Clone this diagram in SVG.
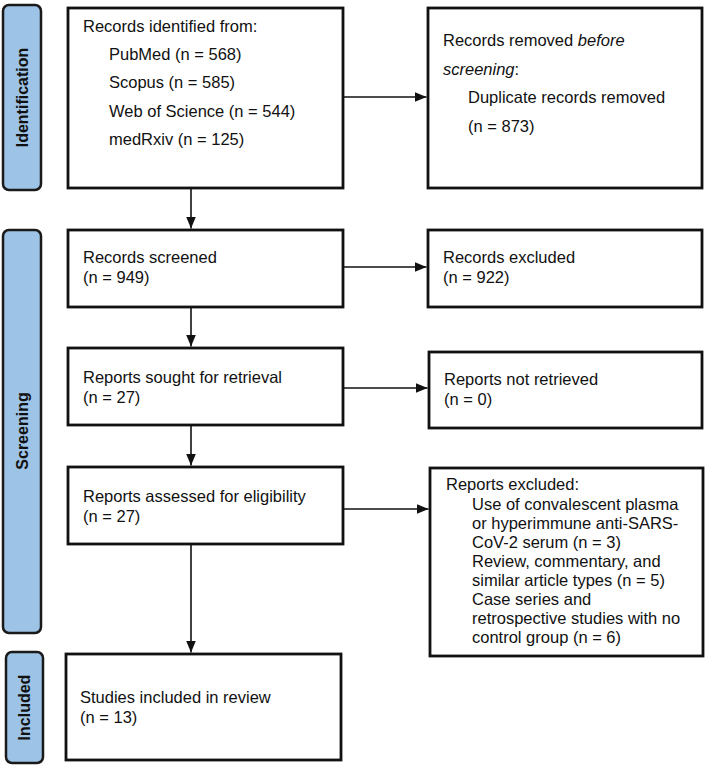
<svg xmlns="http://www.w3.org/2000/svg" width="709" height="769" viewBox="0 0 709 769">
<style>
.side{fill:#9dc3e6;stroke:#1a1a1a;stroke-width:2.5}
.box{fill:#fff;stroke:#111;stroke-width:2.8}
.t{font-family:"Liberation Sans",Arial,sans-serif;font-size:16.5px;fill:#111}
.lab{font-family:"Liberation Sans",Arial,sans-serif;font-size:16px;font-weight:bold;fill:#111}
.c{stroke:#111;stroke-width:1.6;fill:none;marker-end:url(#ah)}
</style>
<defs>
<marker id="ah" viewBox="0 0 12 10" refX="12" refY="5" markerWidth="12" markerHeight="10" markerUnits="userSpaceOnUse" orient="auto">
<path d="M0,0 L12,5 L0,10 z" fill="#111"/>
</marker>
</defs>
<rect width="709" height="769" fill="#fff"/>
<g id="side-identification">
<rect class="side" x="3" y="5" width="38" height="185" rx="6"/>
<text class="lab" transform="translate(28,97.5) rotate(-90)" text-anchor="middle">Identification</text>
</g>
<g id="side-screening">
<rect class="side" x="3" y="230" width="38" height="403" rx="6"/>
<text class="lab" transform="translate(28,431) rotate(-90)" text-anchor="middle">Screening</text>
</g>
<g id="side-included">
<rect class="side" x="6" y="652" width="37" height="111" rx="6"/>
<text class="lab" transform="translate(30,707.5) rotate(-90)" text-anchor="middle">Included</text>
</g>
<g id="identified">
<rect class="box" x="68" y="8" width="275" height="180"/>
<text class="t" x="83" y="32">Records identified from:</text>
<text class="t" x="109" y="60">PubMed (n = 568)</text>
<text class="t" x="109" y="88">Scopus (n = 585)</text>
<text class="t" x="109" y="117">Web of Science (n = 544)</text>
<text class="t" x="109" y="145">medRxiv (n = 125)</text>
</g>
<g id="removed">
<rect class="box" x="428" y="8" width="274" height="180"/>
<text class="t" x="443" y="46">Records removed <tspan font-style="italic">before</tspan></text>
<text class="t" x="443" y="75"><tspan font-style="italic">screening</tspan>:</text>
<text class="t" x="468" y="103">Duplicate records removed</text>
<text class="t" x="468" y="132">(n = 873)</text>
</g>
<g id="screened">
<rect class="box" x="68" y="230" width="275" height="77"/>
<text class="t" x="83" y="263">Records screened</text>
<text class="t" x="83" y="283">(n = 949)</text>
</g>
<g id="excluded">
<rect class="box" x="428" y="230" width="274" height="77"/>
<text class="t" x="443" y="263">Records excluded</text>
<text class="t" x="443" y="283">(n = 922)</text>
</g>
<g id="sought">
<rect class="box" x="68" y="348" width="275" height="77"/>
<text class="t" x="83" y="383">Reports sought for retrieval</text>
<text class="t" x="83" y="403">(n = 27)</text>
</g>
<g id="notretrieved">
<rect class="box" x="429" y="352" width="273" height="76"/>
<text class="t" x="444" y="385">Reports not retrieved</text>
<text class="t" x="444" y="405">(n = 0)</text>
</g>
<g id="assessed">
<rect class="box" x="68" y="467" width="275" height="77"/>
<text class="t" x="83" y="502">Reports assessed for eligibility</text>
<text class="t" x="83" y="522">(n = 27)</text>
</g>
<g id="reportsexcluded">
<rect class="box" x="430" y="468" width="273" height="188"/>
<text class="t" x="446" y="490">Reports excluded:</text>
<text class="t" x="472" y="510">Use of convalescent plasma</text>
<text class="t" x="472" y="529">or hyperimmune anti-SARS-</text>
<text class="t" x="472" y="548">CoV-2 serum (n = 3)</text>
<text class="t" x="472" y="567">Review, commentary, and</text>
<text class="t" x="472" y="586">similar article types (n = 5)</text>
<text class="t" x="472" y="605">Case series and</text>
<text class="t" x="472" y="624">retrospective studies with no</text>
<text class="t" x="472" y="643">control group (n = 6)</text>
</g>
<g id="included">
<rect class="box" x="66" y="654" width="275" height="106"/>
<text class="t" x="80" y="703">Studies included in review</text>
<text class="t" x="80" y="723">(n = 13)</text>
</g>
<g id="connectors">
<path class="c" d="M191,188 V228.5"/>
<path class="c" d="M343,97 H426.5"/>
<path class="c" d="M191,307 V346.5"/>
<path class="c" d="M343,267 H426.5"/>
<path class="c" d="M191,425 V465.5"/>
<path class="c" d="M343,388 H427.5"/>
<path class="c" d="M191,544 V652.5"/>
<path class="c" d="M343,509 H428.5"/>
</g>
</svg>
